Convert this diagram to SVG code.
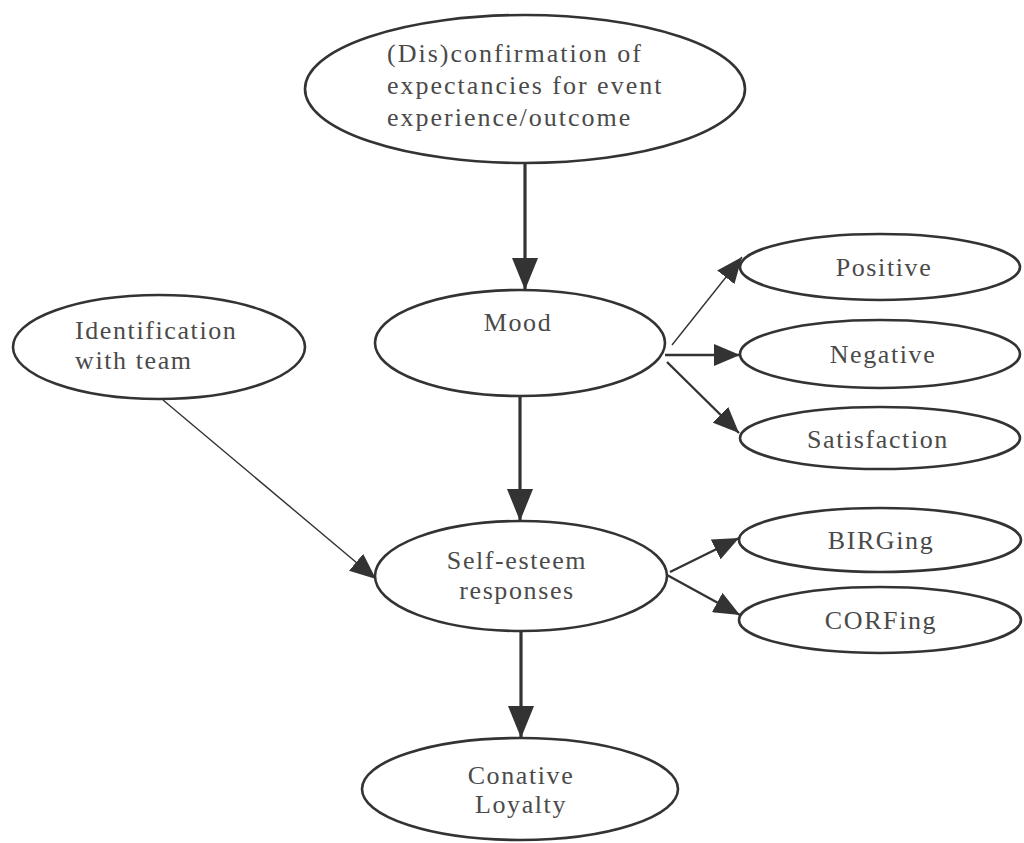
<svg xmlns="http://www.w3.org/2000/svg" width="1024" height="843" viewBox="0 0 1024 843">
<defs>
<style>
.node ellipse{fill:#ffffff;stroke:#333333;stroke-width:2.6}
.node text{font-size:26px;fill:#4a4a4a;letter-spacing:1.6px}
.wide text{letter-spacing:2px}
.c{text-anchor:middle}
#connectors line{stroke:#333333;fill:none}
.thick{stroke-width:3.2}
.mid{stroke-width:2.4}
.thin{stroke-width:1.4}
</style>
<marker id="big" viewBox="0 0 10 10" refX="10" refY="5" markerUnits="userSpaceOnUse" markerWidth="32" markerHeight="26" orient="auto" preserveAspectRatio="none">
<path d="M0,0 L10,5 L0,10 z" fill="#333333"/>
</marker>
<marker id="small" viewBox="0 0 10 10" refX="10" refY="5" markerUnits="userSpaceOnUse" markerWidth="26" markerHeight="22" orient="auto" preserveAspectRatio="none">
<path d="M0,0 L10,5 L0,10 z" fill="#333333"/>
</marker>
</defs>
<rect width="1024" height="843" fill="#ffffff"/>
<g id="connectors">
<line class="thick" x1="525" y1="163" x2="525" y2="290" marker-end="url(#big)"/>
<line class="thick" x1="520" y1="397" x2="520" y2="521" marker-end="url(#big)"/>
<line class="thick" x1="521" y1="631" x2="521" y2="738" marker-end="url(#big)"/>
<line class="thin" x1="163" y1="400" x2="376" y2="579" marker-end="url(#small)"/>
<line class="thin" x1="672" y1="345" x2="742" y2="257" marker-end="url(#small)"/>
<line class="mid" x1="665" y1="355" x2="740" y2="355" marker-end="url(#small)"/>
<line class="mid" x1="667" y1="362" x2="739" y2="433" marker-end="url(#small)"/>
<line class="mid" x1="670" y1="572" x2="739" y2="538" marker-end="url(#small)"/>
<line class="mid" x1="667" y1="575" x2="740" y2="615" marker-end="url(#small)"/>
</g>
<g id="node-confirmation" class="node wide" font-family="'Liberation Serif', 'DejaVu Serif', serif">
<ellipse cx="525" cy="89" rx="220" ry="74"/>
<text x="387" y="62">(Dis)confirmation of</text>
<text x="387" y="94">expectancies for event</text>
<text x="387" y="126">experience/outcome</text>
</g>
<g id="node-mood" class="node" font-family="'Liberation Serif', 'DejaVu Serif', serif">
<ellipse cx="520" cy="343" rx="145" ry="53"/>
<text class="c" x="518" y="331">Mood</text>
</g>
<g id="node-identification" class="node" font-family="'Liberation Serif', 'DejaVu Serif', serif">
<ellipse cx="159" cy="347" rx="146" ry="52"/>
<text x="75" y="339">Identification</text>
<text x="75" y="369">with team</text>
</g>
<g id="node-positive" class="node" font-family="'Liberation Serif', 'DejaVu Serif', serif">
<ellipse cx="880" cy="267" rx="140" ry="33"/>
<text class="c" x="884" y="276">Positive</text>
</g>
<g id="node-negative" class="node" font-family="'Liberation Serif', 'DejaVu Serif', serif">
<ellipse cx="880" cy="354" rx="140" ry="34"/>
<text class="c" x="883" y="363">Negative</text>
</g>
<g id="node-satisfaction" class="node" font-family="'Liberation Serif', 'DejaVu Serif', serif">
<ellipse cx="880" cy="438" rx="140" ry="31"/>
<text class="c" x="878" y="448">Satisfaction</text>
</g>
<g id="node-selfesteem" class="node" font-family="'Liberation Serif', 'DejaVu Serif', serif">
<ellipse cx="521" cy="576" rx="146" ry="55"/>
<text class="c" x="517" y="569">Self-esteem</text>
<text class="c" x="517" y="599">responses</text>
</g>
<g id="node-birging" class="node" font-family="'Liberation Serif', 'DejaVu Serif', serif">
<ellipse cx="880" cy="540" rx="141" ry="32"/>
<text class="c" x="881" y="549">BIRGing</text>
</g>
<g id="node-corfing" class="node" font-family="'Liberation Serif', 'DejaVu Serif', serif">
<ellipse cx="880" cy="620" rx="141" ry="33"/>
<text class="c" x="881" y="629">CORFing</text>
</g>
<g id="node-conative" class="node" font-family="'Liberation Serif', 'DejaVu Serif', serif">
<ellipse cx="520" cy="789" rx="158" ry="51"/>
<text class="c" x="521" y="784">Conative</text>
<text class="c" x="521" y="813">Loyalty</text>
</g>
</svg>
